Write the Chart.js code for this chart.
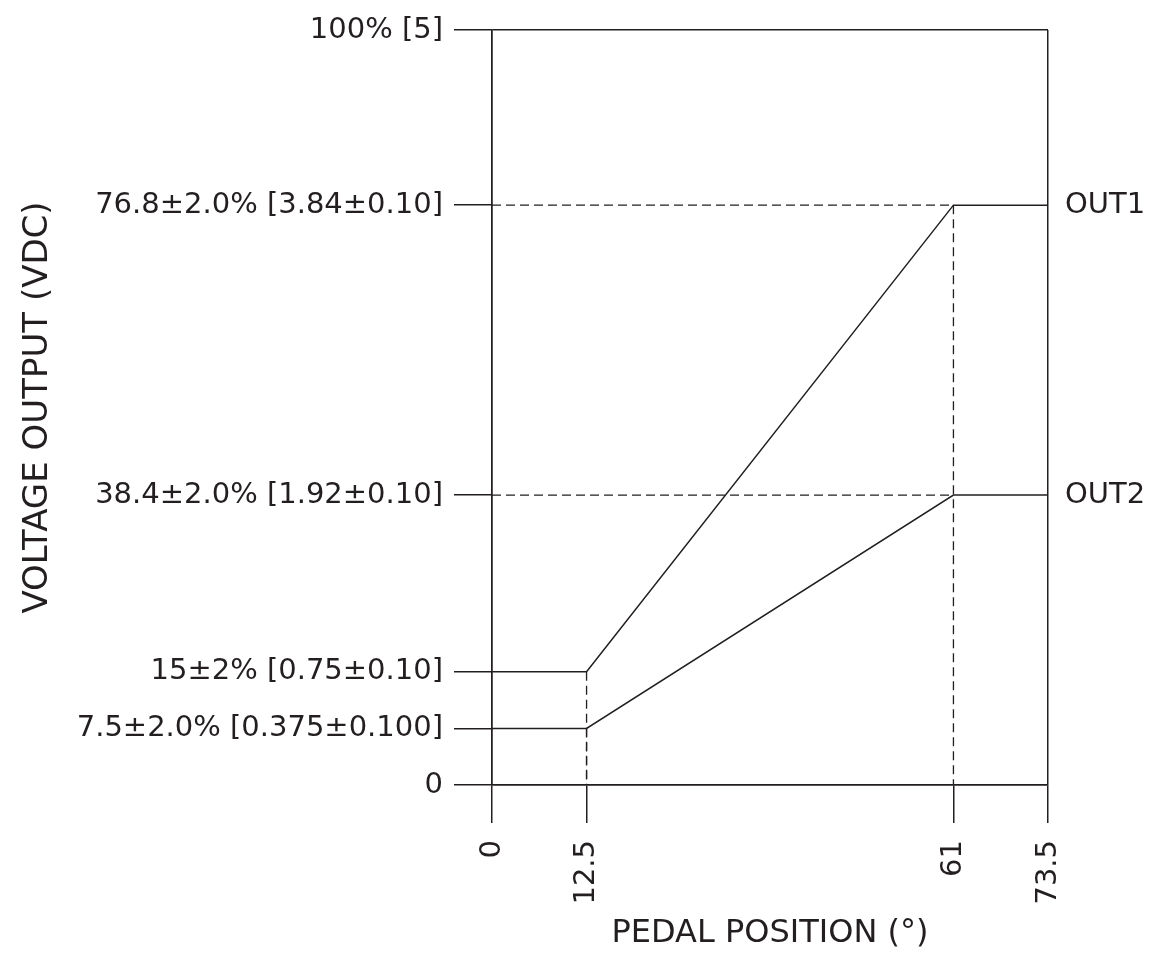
<!DOCTYPE html>
<html>
<head>
<meta charset="utf-8">
<script src="https://cdn.jsdelivr.net/npm/chart.js@4/dist/chart.umd.min.js"></script>
<style>
  html, body { margin: 0; padding: 0; background: #fff; }
  #wrap { width: 1155px; height: 956px; }
</style>
</head>
<body>
<div id="wrap"><canvas id="c" width="1155" height="956"></canvas></div>
<script>
// ---- data ----
const xKnots = [0, 12.5, 61, 73.5];                 // pedal position (deg)
const out1 = [15, 15, 76.8, 76.8];                  // % of supply
const out2 = [7.5, 7.5, 38.4, 38.4];
const seriesNames = ['OUT1', 'OUT2'];
const xTickValues = [0, 12.5, 61, 73.5];
const xTickLabels = ['0', '12.5', '61', '73.5'];
const yTickValues = [0, 7.5, 15, 38.4, 76.8, 100];
const yTickLabels = ['0', '7.5±2.0% [0.375±0.100]', '15±2% [0.75±0.10]',
                     '38.4±2.0% [1.92±0.10]', '76.8±2.0% [3.84±0.10]', '100% [5]'];
const xTitle = 'PEDAL POSITION (°)';
const yTitle = 'VOLTAGE OUTPUT (VDC)';

const INK = '#231f20';
const FONT = 'DejaVu Sans';
const FS = 29;

const pts = ys => xKnots.map((x, i) => ({ x: x, y: ys[i] }));
// dashed guide lines from the knees down to the axes / across to the y axis
const guides = [];
[out1, out2].forEach(ys => {
  guides.push([{ x: xKnots[1], y: ys[1] }, { x: xKnots[1], y: 0 }]);
  guides.push([{ x: xKnots[0], y: ys[2] }, { x: xKnots[2], y: ys[2] }]);
});
guides.push([{ x: xKnots[2], y: out1[2] }, { x: xKnots[2], y: 0 }]);

const datasets = [
  { label: seriesNames[0], data: pts(out1) },
  { label: seriesNames[1], data: pts(out2) }
].map(d => Object.assign(d, { borderColor: INK, borderWidth: 1.5, pointRadius: 0, fill: false, tension: 0 }));
guides.forEach((g, i) => datasets.push({
  label: 'guide' + i, data: g, borderColor: INK, borderWidth: 1.3,
  borderDash: [9, 5], pointRadius: 0, fill: false, order: 5
}));

const edge = (v, lo, hi) => (v === lo || v === hi) ? INK : 'rgba(0,0,0,0)';

new Chart(document.getElementById('c'), {
  type: 'line',
  data: { datasets },
  options: {
    responsive: false,
    animation: false,
    devicePixelRatio: 1,
    layout: { padding: { top: 30, left: 0, right: 0, bottom: 0 } },
    plugins: { legend: { display: false }, tooltip: { enabled: false } },
    scales: {
      x: {
        type: 'linear', min: 0, max: 73.5,
        afterBuildTicks: s => { s.ticks = xTickValues.map(v => ({ value: v })); },
        afterFit: s => { s.height = 171; },
        ticks: {
          color: INK, font: { family: FONT, size: FS }, padding: 17,
          minRotation: 90, maxRotation: 90, autoSkip: false,
          callback: (v, i) => xTickLabels[i]
        },
        grid: {
          color: c => edge(c.tick ? c.tick.value : null, 0, 73.5),
          tickColor: INK, tickLength: 38, lineWidth: 1.5, tickWidth: 1.5
        },
        border: { display: true, color: INK, width: 1.5 },
        title: { display: true, text: xTitle, color: INK, font: { family: FONT, size: 32 }, padding: { top: 0, bottom: 3 } }
      },
      y: {
        type: 'linear', min: 0, max: 100, position: 'left',
        afterBuildTicks: s => { s.ticks = yTickValues.map(v => ({ value: v })); },
        afterFit: s => { s.width = 492; },
        ticks: {
          color: INK, font: { family: FONT, size: FS }, padding: 11, autoSkip: false,
          callback: (v, i) => yTickLabels[i]
        },
        grid: {
          color: c => edge(c.tick ? c.tick.value : null, 0, 100),
          tickColor: INK, tickLength: 38, lineWidth: 1.5, tickWidth: 1.5
        },
        border: { display: true, color: INK, width: 1.5 },
        title: { display: true, text: yTitle, color: INK, font: { family: FONT, size: 34 }, padding: { top: 18, bottom: 0 } }
      },
      y2: {
        type: 'linear', min: 0, max: 100, position: 'right',
        afterBuildTicks: s => { s.ticks = [out1[3], out2[3]].map(v => ({ value: v })); },
        afterFit: s => { s.width = 107; },
        ticks: {
          color: INK, font: { family: FONT, size: FS }, padding: 0, autoSkip: false,
          callback: (v, i) => seriesNames[i]
        },
        grid: { drawOnChartArea: false, drawTicks: true, tickLength: 17, tickColor: 'rgba(0,0,0,0)' },
        border: { display: false }
      }
    }
  }
});
</script>
</body>
</html>
